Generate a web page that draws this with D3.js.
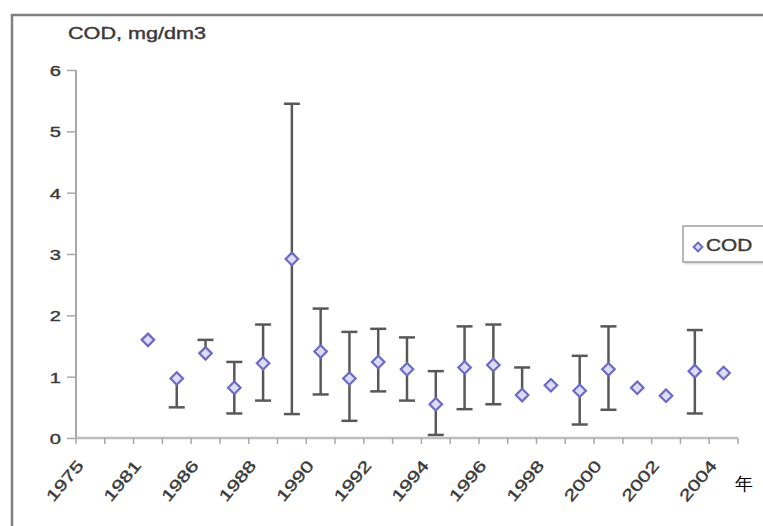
<!DOCTYPE html>
<html>
<head>
<meta charset="utf-8">
<script src="https://cdn.jsdelivr.net/npm/d3@7"></script>
<style>
  html, body { margin: 0; padding: 0; background: #fff; }
  svg { display: block; }
  text { font-family: "Liberation Sans", Arial, sans-serif; }
</style>
</head>
<body>
<svg id="chart" width="763" height="526"></svg>
<script>
// Sampling years (one slot per year on the category axis)
const years = ["1975","1980","1981","1985","1986","1987","1988","1989","1990","1991",
               "1992","1993","1994","1995","1996","1997","1998","1999","2000","2001",
               "2002","2003","2004"];
// Labels printed under the axis
const xTickLabels = ["1975","1981","1986","1988","1990","1992","1994","1996","1998","2000","2002","2004"];
const yTicks = [0, 1, 2, 3, 4, 5, 6];

// COD, mg/dm3: mean, upper and lower error limits (null = not measured / no bar)
const codMean = [null, null, 1.60, 0.97, 1.38, 0.82, 1.22, 2.92, 1.41, 0.97, 1.24, 1.12,
                 0.55, 1.15, 1.19, 0.70, 0.86, 0.77, 1.12, 0.82, 0.69, 1.09, 1.06];
const codHigh = [null, null, null, null, 1.60, 1.24, 1.85, 5.45, 2.11, 1.73, 1.78, 1.64,
                 1.09, 1.82, 1.85, 1.15, null, 1.34, 1.82, null, null, 1.76, null];
const codLow  = [null, null, null, 0.50, null, 0.40, 0.61, 0.39, 0.71, 0.28, 0.76, 0.61,
                 0.05, 0.47, 0.55, null, null, 0.22, 0.46, null, null, 0.40, null];

const seriesName = "COD";
const yTitle = "COD, mg/dm3";
const xUnit = "年";

const svg = d3.select("#chart");
const W = 763, H = 526;
const plot = { left: 76, right: 738, top: 70, bottom: 438 };
const stretch = 1.3;
const textColor = "#3a3a3a";

const x = d3.scaleBand().domain(years).range([plot.left, plot.right]).padding(0);
const y = d3.scaleLinear().domain([0, 6]).range([plot.bottom, plot.top]);

// Outer frame (runs off the right and bottom edges)
svg.append("path")
  .attr("d", `M12,${H + 5} L12,15 L${W + 5},15`)
  .attr("fill", "none").attr("stroke", "#808080").attr("stroke-width", 2.5);

// Y axis
const yAxis = svg.append("g").attr("transform", `translate(${plot.left},0)`)
  .call(d3.axisLeft(y).tickValues(yTicks).tickSize(9).tickFormat(d3.format("d")));
yAxis.select(".domain").attr("stroke", "#a8a8a8").attr("stroke-width", 2)
  .attr("d", `M0,${plot.top}V${plot.bottom}`);
yAxis.selectAll(".tick line").attr("stroke", "#a8a8a8").attr("stroke-width", 1.5);
yAxis.selectAll(".tick text")
  .attr("x", null).attr("dy", null)
  .attr("font-size", 15.5).attr("fill", textColor)
  .attr("stroke", textColor).attr("stroke-width", 0.4)
  .attr("text-anchor", "end")
  .attr("transform", `translate(-15,5.5) scale(${stretch},1)`);

// X axis with ticks on slot boundaries
const xAxisG = svg.append("g").attr("transform", `translate(0,${plot.bottom})`);
xAxisG.append("line")
  .attr("x1", plot.left).attr("x2", plot.right)
  .attr("stroke", "#bdbdbd").attr("stroke-width", 2.5);
const bounds = years.map(d => x(d)).concat([x(years[years.length - 1]) + x.bandwidth()]);
xAxisG.selectAll("line.tick").data(bounds).join("line")
  .attr("class", "tick")
  .attr("x1", d => d).attr("x2", d => d)
  .attr("y1", 0).attr("y2", 6)
  .attr("stroke", "#a8a8a8").attr("stroke-width", 1.5);
xAxisG.selectAll("text").data(xTickLabels).join("text")
  .attr("font-size", 16).attr("fill", textColor)
  .attr("stroke", textColor).attr("stroke-width", 0.4)
  .attr("text-anchor", "end")
  .attr("transform", d => `translate(${x(d) + x.bandwidth() / 2 - 6},28) rotate(-50) scale(1.35,1)`)
  .text(d => d);

// Axis captions
svg.append("text")
  .attr("font-size", 16).attr("fill", textColor)
  .attr("stroke", textColor).attr("stroke-width", 0.4)
  .attr("transform", `translate(68,39) scale(1.35,1)`)
  .text(yTitle);
svg.append("text")
  .attr("x", 735).attr("y", 490)
  .attr("font-size", 18).attr("fill", "#000")
  .attr("font-family", "'Noto Sans CJK SC', sans-serif")
  .text(xUnit);

const pts = years.map((yr, i) => ({ yr, v: codMean[i], hi: codHigh[i], lo: codLow[i] }))
  .filter(d => d.v !== null);
const cx = d => x(d.yr) + x.bandwidth() / 2;
const cap = 8;
const errColor = "#585858";

// Error bars
const eb = svg.append("g").attr("stroke", errColor).attr("stroke-width", 2.5).attr("fill", "none");
pts.forEach(d => {
  const top = d.hi !== null ? d.hi : d.v;
  const bot = d.lo !== null ? d.lo : d.v;
  if (top === bot) return;
  eb.append("line").attr("x1", cx(d)).attr("x2", cx(d)).attr("y1", y(top)).attr("y2", y(bot));
  if (d.hi !== null)
    eb.append("line").attr("x1", cx(d) - cap).attr("x2", cx(d) + cap).attr("y1", y(d.hi)).attr("y2", y(d.hi));
  if (d.lo !== null)
    eb.append("line").attr("x1", cx(d) - cap).attr("x2", cx(d) + cap).attr("y1", y(d.lo)).attr("y2", y(d.lo));
});

// Diamond markers
const diamond = d3.symbol().type(d3.symbolDiamond2).size(100);
svg.append("g").selectAll("path").data(pts).join("path")
  .attr("d", diamond)
  .attr("transform", d => `translate(${cx(d)},${y(d.v)})`)
  .attr("fill", "#dcdcf6").attr("stroke", "#6b6bc6").attr("stroke-width", 2.2);

// Legend
const lg = svg.append("g").attr("transform", "translate(683,226)");
lg.append("rect").attr("x", 1.5).attr("y", 1.5).attr("width", 90).attr("height", 37)
  .attr("fill", "#ddd");
lg.append("rect").attr("width", 90).attr("height", 36)
  .attr("fill", "#fff").attr("stroke", "#a0a0a0").attr("stroke-width", 1.5);
lg.append("path").attr("d", d3.symbol().type(d3.symbolDiamond2).size(50))
  .attr("transform", "translate(15,21)")
  .attr("fill", "#dcdcf6").attr("stroke", "#6b6bc6").attr("stroke-width", 2);
lg.append("text").attr("font-size", 16).attr("fill", textColor)
  .attr("stroke", textColor).attr("stroke-width", 0.4)
  .attr("transform", `translate(23,25) scale(${stretch},1)`)
  .text(seriesName);
</script>
</body>
</html>
